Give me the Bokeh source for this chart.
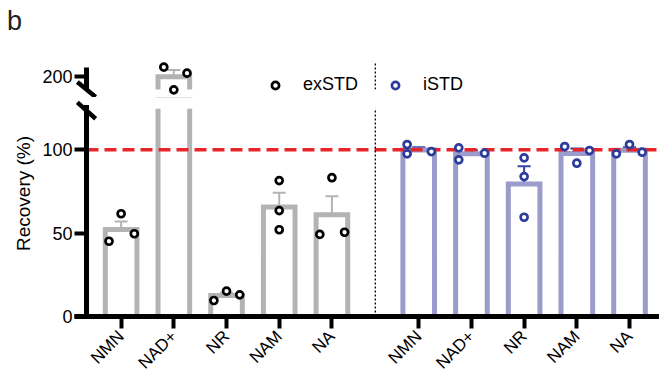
import math
import numpy as np
from bokeh.plotting import figure
from bokeh.layouts import column
from bokeh.models import (Range1d, FixedTicker, BoxAnnotation, Whisker, TeeHead,
                          ColumnDataSource, Legend, LegendItem, Label, Arrow)
from bokeh.embed import file_html
from bokeh.resources import INLINE

# ---------------- data ----------------
compounds = ["NMN", "NAD+", "NR", "NAM", "NA"]
series_names = ["exSTD", "iSTD"]
exstd_values = [[45.1, 61.6, 49.6],
                [205.6, 192.0, 202.0],
                [9.6, 15.2, 13.0],
                [81.5, 63.5, 52.0],
                [49.2, 83.2, 50.5]]
istd_values = [[103.1, 97.5, 98.9],
               [101.1, 93.9, 97.9],
               [95.1, 83.9, 59.5],
               [101.9, 91.9, 99.5],
               [97.5, 103.1, 98.5]]
lower_ticks = [0, 50, 100]
upper_ticks = [200]
reference_level = 100
axis_break = (124.5, 192.2)   # lower segment ends / upper segment starts
upper_axis_end = 205.6
y_label = "Recovery (%)"
panel_letter = "b"

# ---------------- layout / style constants ----------------
# horizontal scatter offsets of replicate points (in category widths)
exstd_jitter = [[-0.23, 0.0, 0.25], [-0.19, 0.0, 0.25], [-0.24, 0.0, 0.25],
                [0.0, 0.0, 0.0], [-0.23, 0.0, 0.24]]
istd_jitter = [[-0.22, -0.22, 0.24], [-0.24, -0.24, 0.25], [0.0, 0.0, 0.0],
               [-0.23, 0.0, 0.24], [-0.25, 0.0, 0.24]]

FONT = "Liberation Sans"
BAR_COLORS = ["#b3b3b3", "#9b9bcc"]
POINT_COLORS = ["#000000", "#2c3c9b"]
ERR_COLORS = ["#b3b3b3", "#34449e"]
RED = "#e8262a"

W = 659
AXIS_PX = 86          # y axis position on the canvas
UP_H = 97             # upper panel height (whole canvas is frame)
LO_H = 284            # lower panel height (whole canvas is frame)
ZERO_PX = 316 - UP_H  # y of the zero line inside the lower canvas
Y_PX = 1.668          # pixels per percent
X_PX = 52.7           # pixels per category
X_AXIS = -0.657       # x value where the y axis sits
GROUP_GAP = 0.647
BAR_W = 0.6
TICK_200_PX = 76      # canvas y of the 200 tick
DIVIDER_TOP_PX = 62   # canvas y where the dotted divider starts

n = len(compounds)
positions = [[round(g * (n + GROUP_GAP) + i, 3) for i in range(n)] for g in range(2)]
all_values = [exstd_values, istd_values]
all_jitter = [exstd_jitter, istd_jitter]

x_start = X_AXIS - AXIS_PX / X_PX
x_end = x_start + W / X_PX
x_range = Range1d(x_start, x_end)
lo_range = Range1d(-(LO_H - ZERO_PX) / Y_PX, ZERO_PX / Y_PX)
up_range = Range1d(upper_ticks[0] - (UP_H - TICK_200_PX) / Y_PX,
                   upper_ticks[0] + TICK_200_PX / Y_PX)


def make_fig(height, y_range):
    p = figure(width=W, height=height, x_range=x_range, y_range=y_range,
               output_backend="svg", toolbar_location=None,
               min_border_left=0, min_border_right=0,
               min_border_top=0, min_border_bottom=0,
               outline_line_color=None, background_fill_color="white",
               border_fill_color="white")
    p.xgrid.visible = False
    p.ygrid.visible = False
    ax = p.yaxis[0]
    ax.fixed_location = X_AXIS
    ax.axis_line_width = 5
    ax.axis_line_color = "black"
    ax.major_tick_line_width = 4
    ax.major_tick_line_color = "black"
    ax.major_tick_out = 12
    ax.major_tick_in = 0
    ax.minor_tick_line_color = None
    ax.major_label_text_font = FONT
    ax.major_label_text_font_size = "18px"
    ax.major_label_text_color = "black"
    ax.major_label_standoff = 2
    return p


p_up = make_fig(UP_H, up_range)
p_lo = make_fig(LO_H, lo_range)

p_up.xaxis.visible = False
p_up.yaxis[0].ticker = FixedTicker(ticks=upper_ticks)
p_up.yaxis[0].bounds = (axis_break[1], upper_axis_end)
p_lo.yaxis[0].ticker = FixedTicker(ticks=lower_ticks)
p_lo.yaxis[0].bounds = (0, axis_break[0] + 1)
p_lo.yaxis[0].axis_line_cap = "square"

xa = p_lo.xaxis[0]
flat_pos = positions[0] + positions[1]
xa.fixed_location = 0
xa.ticker = FixedTicker(ticks=flat_pos)
xa.bounds = (X_AXIS - 12 / X_PX, x_end)
xa.major_label_overrides = {pos: name for pos, name in zip(flat_pos, compounds + compounds)}
xa.major_label_orientation = math.pi / 4
xa.major_label_text_font = FONT
xa.major_label_text_font_size = "17px"
xa.major_label_text_color = "black"
xa.major_label_standoff = 5
xa.axis_line_width = 5
xa.axis_line_color = "black"
xa.major_tick_line_width = 4
xa.major_tick_line_color = "black"
xa.major_tick_out = 12
xa.major_tick_in = 0
xa.minor_tick_line_color = None

scatter_up = []
for g in range(2):
    vals = all_values[g]
    means = [float(np.mean(v)) for v in vals]
    sems = [float(np.std(v, ddof=1) / math.sqrt(len(v))) for v in vals]
    bar_src = ColumnDataSource(dict(x=positions[g], top=means,
                                    upper=[m + s for m, s in zip(means, sems)],
                                    lower=[m - s for m, s in zip(means, sems)]))
    px, py = [], []
    for i, v in enumerate(vals):
        for val, jit in zip(v, all_jitter[g][i]):
            px.append(positions[g][i] + jit)
            py.append(val)
    pt_src = ColumnDataSource(dict(x=px, y=py))
    for p in (p_up, p_lo):
        p.vbar(x="x", top="top", bottom=0, width=BAR_W, source=bar_src,
               fill_color="white", line_color=BAR_COLORS[g], line_width=5,
               line_join="miter")
        p.add_layout(Whisker(source=bar_src, base="x", upper="upper", lower="lower",
                             line_color=ERR_COLORS[g], line_width=2,
                             upper_head=TeeHead(size=13, line_color=ERR_COLORS[g], line_width=2),
                             lower_head=TeeHead(size=13, line_color=ERR_COLORS[g], line_width=2)))
        r = p.scatter(x="x", y="y", source=pt_src, size=7, marker="circle",
                      fill_color="white", line_color=POINT_COLORS[g], line_width=2.7,
                      level="overlay")
        if p is p_up:
            scatter_up.append(r)

# masks that cut the bars at the axis break (only right of the y axis)
mask_left = X_AXIS + 3 / X_PX
p_up.add_layout(BoxAnnotation(top=axis_break[1], left=mask_left, fill_color="white",
                              fill_alpha=1, line_color=None))
p_lo.add_layout(BoxAnnotation(bottom=axis_break[0], left=mask_left, fill_color="white",
                              fill_alpha=1, line_color=None))

# reference line (from the y axis to the right edge)
p_lo.segment(x0=X_AXIS, y0=reference_level, x1=x_end, y1=reference_level,
             line_color=RED, line_width=3.5, line_dash="12 6")

# dotted divider between the two groups
divider = (positions[0][-1] + positions[1][0]) / 2
p_lo.segment(x0=divider, y0=0, x1=divider, y1=lo_range.end,
             line_color="black", line_width=1.3, line_dash="2 2")
p_up.segment(x0=divider, y0=up_range.start, x1=divider,
             y1=upper_ticks[0] + (TICK_200_PX - DIVIDER_TOP_PX) / Y_PX,
             line_color="black", line_width=1.3, line_dash="2 2")

# axis break marks
dx = 9.15 / X_PX
for p, yc, half in ((p_up, axis_break[1], 7.5 / Y_PX), (p_lo, axis_break[0] - 1, 8.2 / Y_PX)):
    p.add_layout(Arrow(end=None, x_start=X_AXIS - dx, y_start=yc + half,
                       x_end=X_AXIS + dx, y_end=yc - half,
                       line_color="black", line_width=4.5, line_cap="butt"))

# legend
legend = Legend(items=[LegendItem(label=series_names[0], renderers=[scatter_up[0]]),
                       LegendItem(label=series_names[1], renderers=[scatter_up[1]])],
                location=(275 - 9, 2), orientation="horizontal",
                glyph_width=18, glyph_height=18, label_standoff=19, spacing=28,
                padding=0, margin=0, border_line_color=None, background_fill_alpha=0,
                label_text_font=FONT, label_text_font_size="18px",
                label_text_color="black")
p_up.add_layout(legend, "center")

# panel letter (top-left) and y axis title, positioned relative to the axes
p_up.add_layout(Label(x=X_AXIS - (AXIS_PX - 6.6) / X_PX,
                      y=upper_ticks[0] + (TICK_200_PX - 5.5) / Y_PX,
                      text=panel_letter, text_font=FONT, text_font_size="27px",
                      text_color="#222222", text_align="left", text_baseline="top"))
p_lo.add_layout(Label(x=X_AXIS - (AXIS_PX - 22.5) / X_PX, y=(ZERO_PX - (193 - UP_H)) / Y_PX,
                      text=y_label, angle=math.pi / 2, text_font=FONT,
                      text_font_size="19px", text_color="black",
                      text_align="center", text_baseline="middle"))

layout = column(p_up, p_lo, spacing=0)
open("out.html", "w").write(file_html(layout, INLINE))
